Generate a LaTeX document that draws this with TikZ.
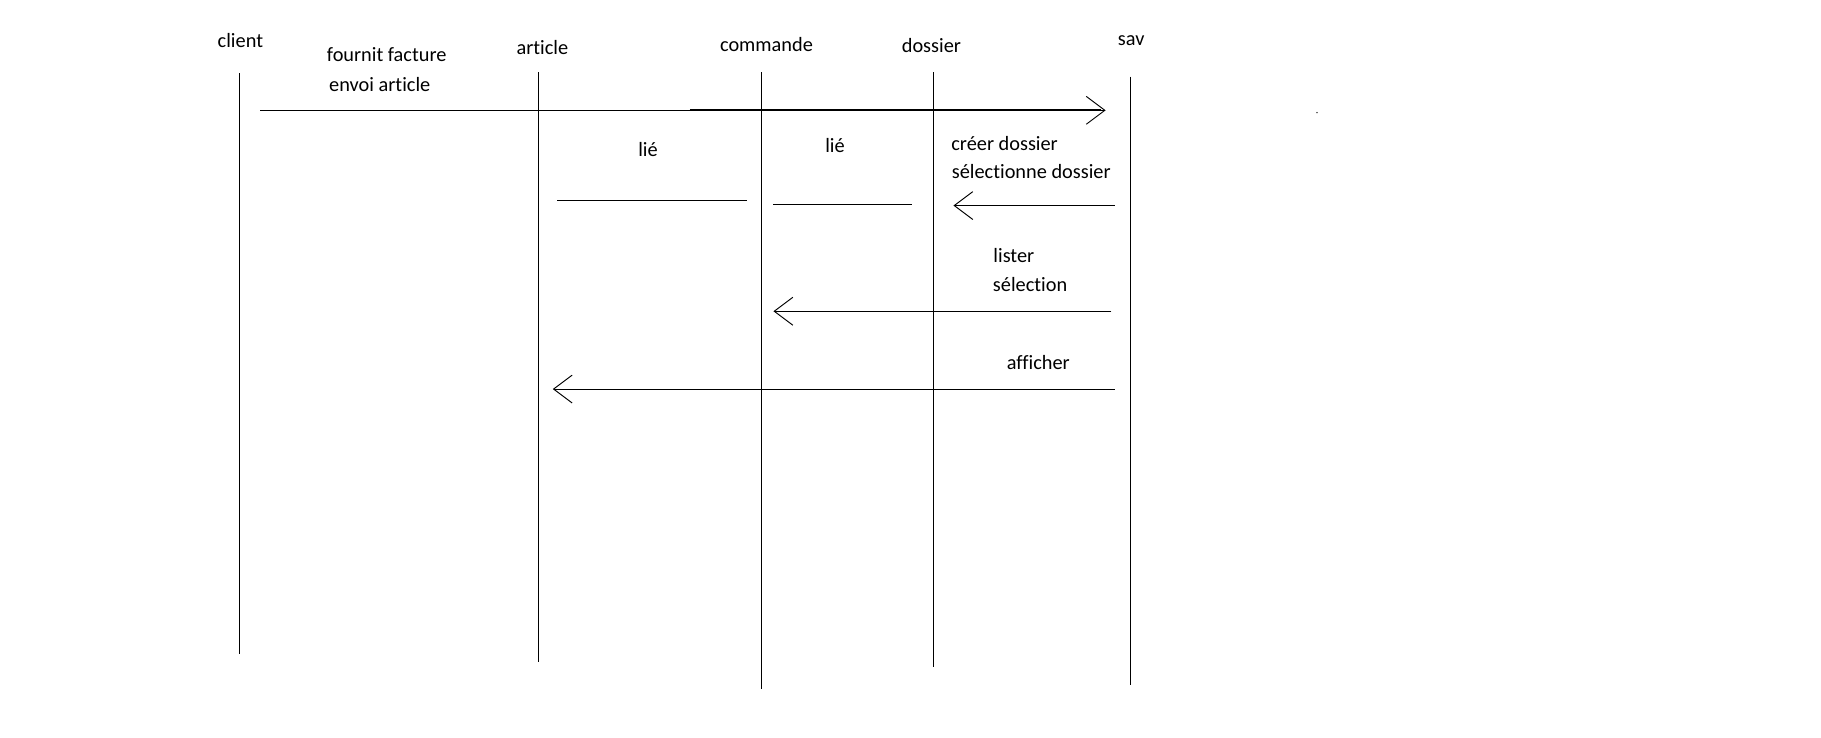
\documentclass[tikz,border=0pt]{standalone}
\usepackage{fontspec}
\setmainfont{Carlito}[Ligatures={NoCommon}]
\usetikzlibrary{arrows.meta}
\begin{document}
\begin{tikzpicture}[x=1pt,y=-1pt,
  lbl/.style={inner sep=0pt,font=\fontsize{17.5}{20}\selectfont},
  life/.style={line width=0.9pt},
  msg/.style={line width=0.9pt},
  openhead/.style={-{Straight Barb[length=16pt,width=24pt,line width=0.8pt]}}]
\useasboundingbox (0,0) rectangle (1568,635);
% lifeline labels
\node[lbl] (client) at (207,35) {client};
\node[lbl] (article) at (467,41) {article};
\node[lbl] (commande) at (660,38) {commande};
\node[lbl] (dossier) at (802,39) {dossier};
\node[lbl] (sav) at (974,35) {sav};
% lifelines
\coordinate (clT) at (206,63);  \coordinate (clB) at (206,563);
\coordinate (arT) at (464,62);  \coordinate (arB) at (464,570);
\coordinate (coT) at (656,62);  \coordinate (coB) at (656,593);
\coordinate (doT) at (804,62);  \coordinate (doB) at (804,574);
\coordinate (saT) at (973.4,66);  \coordinate (saB) at (973.4,590);
\draw[life] (clT) -- (clB);
\draw[life] (arT) -- (arB);
\draw[life,line width=1.1pt] (coT) -- (coB);
\draw[life] (doT) -- (doB);
\draw[life] (saT) -- (saB);
% message 1
\node[lbl] (m1a) at (333,47) {fournit facture};
\node[lbl] (m1b) at (327,73) {envoi article};
\coordinate (m1s) at (224,95);
\coordinate (m1m) at (594,95);
\coordinate (m1e) at (952,95);
\draw[msg,openhead] (m1s) -- (m1e);
\draw[msg,line width=1.8pt] (m1m) -- ([xshift=-4pt]m1e);
% lié 1
\node[lbl] (l1) at (558,129) {lié};
\coordinate (l1s) at (480,173); \coordinate (l1e) at (643,173);
\draw[msg] (l1s) -- (l1e);
% lié 2
\node[lbl] (l2) at (719,125) {lié};
\coordinate (l2s) at (666,176); \coordinate (l2e) at (785,176);
\draw[msg] (l2s) -- (l2e);
% créer dossier
\node[lbl] (m3a) at (865,124) {créer dossier};
\node[lbl] (m3b) at (888,148) {sélectionne dossier};
\coordinate (m3s) at (960,177); \coordinate (m3e) at (821,177);
\draw[msg,openhead] (m3s) -- (m3e);
% lister
\node[lbl] (m4a) at (873,220) {lister};
\node[lbl] (m4b) at (887,245) {sélection};
\coordinate (m4s) at (957,268); \coordinate (m4e) at (666,268);
\draw[msg,openhead] (m4s) -- (m4e);
% afficher
\node[lbl] (m5a) at (894,312) {afficher};
\coordinate (m5s) at (960,335); \coordinate (m5e) at (476,335);
\draw[msg,openhead] (m5s) -- (m5e);
% stray dot
\fill (1134,97) circle (0.6pt);
\end{tikzpicture}
\end{document}
